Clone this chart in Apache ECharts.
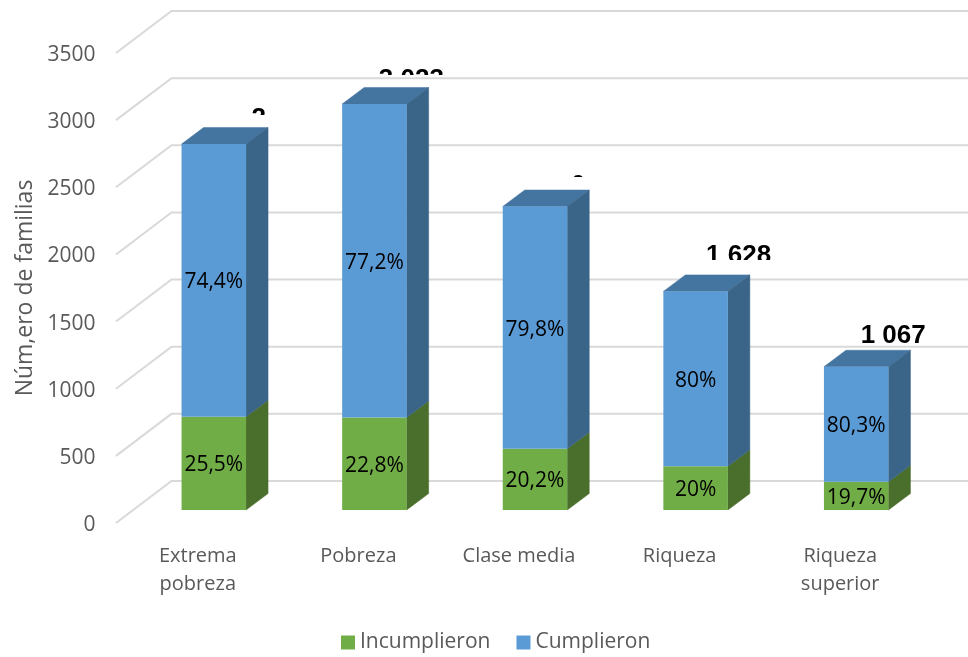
<!DOCTYPE html>
<html><head><meta charset="utf-8">
<style>html,body{margin:0;padding:0;background:#fff}#c{width:968px;height:657px}</style>
<script src="https://cdn.jsdelivr.net/npm/echarts@6/dist/echarts.min.js"></script>
</head><body><div id="c"></div>
<script>
const categories = ['Extrema\npobreza','Pobreza','Clase media','Riqueza','Riqueza\nsuperior'];
const incumplieron = [695, 689, 456, 326, 210];
const cumplieron = [2030, 2334, 1804, 1302, 857];
const pctIncumplieron = ['25,5%','22,8%','20,2%','20%','19,7%'];
const pctCumplieron = ['74,4%','77,2%','79,8%','80%','80,3%'];
const totalLabels = ['2 725','3 023','2 260','1 628','1 067'];
const ticks = [0,500,1000,1500,2000,2500,3000,3500];

const FONT = '"Open Sans", sans-serif';
const TXT = '#595959';
const FACE_DX = 16, FACE_DY = -13, HALF_W = 32.25, DEPTH_X = 22, DEPTH_Y = -16.5;
const BACK_DX = 55.5, BACK_DY = -42;
const TOTAL_DX = [50, 53, 48, 59, 53];
const TOTAL_DY = [-25, -24, -21, -35.5, -30.5];
const TOTAL_CLIP = [
  {x:252, y:90, width:14, height:25},
  {x:360, y:50, width:110, height:25},
  {x:571, y:160, width:12, height:17},
  {x:690, y:230, width:100, height:30},
  {x:840, y:310, width:110, height:50}
];

function box(api, idx, from, to, cols, withTop, pct) {
  const p0 = api.coord([idx, from]), p1 = api.coord([idx, to]);
  const cx = p0[0] + FACE_DX, x0 = cx - HALF_W, x1 = cx + HALF_W;
  const yb = p0[1] + FACE_DY, yt = p1[1] + FACE_DY;
  const kids = [];
  if (withTop) kids.push({type:'polygon', shape:{points:[[x0,yt],[x1,yt],[x1+DEPTH_X,yt+DEPTH_Y],[x0+DEPTH_X,yt+DEPTH_Y]]}, style:{fill:cols[2], stroke:cols[2], lineWidth:.5}});
  kids.push({type:'polygon', shape:{points:[[x1,yb],[x1+DEPTH_X,yb+DEPTH_Y],[x1+DEPTH_X,yt+DEPTH_Y],[x1,yt]]}, style:{fill:cols[1], stroke:cols[1], lineWidth:.5}});
  kids.push({type:'rect', shape:{x:x0,y:yt,width:x1-x0,height:yb-yt}, style:{fill:cols[0]}});
  kids.push({type:'text', style:{text:pct, x:cx, y:(yt+yb)/2+2, align:'center', verticalAlign:'middle', fill:'#000', font:'21px '+FONT}});
  return {type:'group', children:kids};
}

const chart = echarts.init(document.getElementById('c'), null, {renderer:'canvas'});
chart.setOption({
  animation:false,
  backgroundColor:'#fff',
  grid:{left:117.5, top:53, right:47.5, bottom:134},
  legend:{left:336, top:627, itemWidth:14, itemHeight:14, itemGap:26, icon:'rect',
    textStyle:{color:TXT, fontFamily:FONT, fontSize:21, padding:[0,0,0,0]},
    data:['Incumplieron','Cumplieron']},
  xAxis:{type:'category', data:categories, axisLine:{show:false}, axisTick:{show:false}, splitLine:{show:false},
    axisLabel:{color:TXT, fontFamily:FONT, fontSize:20, lineHeight:28, margin:19, interval:0}},
  yAxis:{type:'value', min:0, max:3500, interval:500, axisLine:{show:false}, axisTick:{show:false}, splitLine:{show:false},
    name:'Núm,ero de familias', nameLocation:'middle', nameGap:78,
    nameTextStyle:{color:TXT, fontFamily:FONT, fontSize:23},
    axisLabel:{color:TXT, fontFamily:FONT, fontSize:21, margin:22, formatter:v=>'{a|'+v+'}',
      rich:{a:{color:TXT, fontFamily:FONT, fontSize:21, padding:[4,0,0,0]}}}},
  series:[
    {type:'custom', name:'grid', silent:true, z:1, data:ticks.map(t=>[0,t]), encode:{x:0,y:1},
     renderItem(params, api){
       const c = api.coord([0, api.value(1)]);
       const left = params.coordSys.x;
       return {type:'polyline', shape:{points:[[left-1.5,c[1]],[left+BACK_DX-1.5,c[1]+BACK_DY],[968,c[1]+BACK_DY]]},
         style:{stroke:'#d9d9d9', lineWidth:2, fill:null}};
     }},
    {type:'custom', name:'Incumplieron', z:2, itemStyle:{color:'#70AD47'},
     data:incumplieron.map((v,i)=>[i,v]), encode:{x:0,y:1},
     renderItem(params, api){
       const i = api.value(0);
       return box(api, i, 0, api.value(1), ['#70AD47','#4A6E2B','#527F33'], false, pctIncumplieron[i]);
     }},
    {type:'custom', name:'Cumplieron', z:3, itemStyle:{color:'#5B9BD5'},
     data:cumplieron.map((v,i)=>[i,v,incumplieron[i]]), encode:{x:0,y:1},
     renderItem(params, api){
       const i = api.value(0), base = api.value(2);
       return box(api, i, base, base+api.value(1), ['#5B9BD5','#3A6488','#4475A1'], true, pctCumplieron[i]);
     }},
    {type:'custom', name:'totales', silent:true, z:4,
     data:cumplieron.map((v,i)=>[i,v+incumplieron[i]]), encode:{x:0,y:1},
     renderItem(params, api){
       const i = api.value(0), c = api.coord([i, api.value(1)]);
       return {type:'text', clipPath:{type:'rect', shape:TOTAL_CLIP[i]},
         style:{text:totalLabels[i], x:c[0]+TOTAL_DX[i], y:c[1]+FACE_DY+TOTAL_DY[i], align:'center', verticalAlign:'middle',
           fill:'#000', font:'bold 26px "Liberation Sans", Arial, sans-serif'}};
     }}
  ]
});
</script></body></html>
